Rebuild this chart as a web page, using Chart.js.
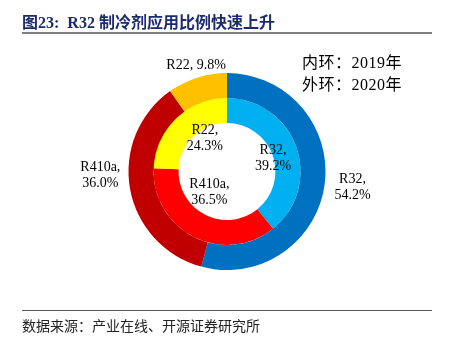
<!DOCTYPE html>
<html>
<head>
<meta charset="utf-8">
<script src="https://cdn.jsdelivr.net/npm/chart.js@4/dist/chart.umd.min.js"></script>
<style>
  html, body { margin: 0; padding: 0; background: #fff; }
  #wrap { position: relative; width: 454px; height: 337px; overflow: hidden; }
  #c { position: absolute; left: 0; top: 0; }
  .title { position: absolute; left: 22px; top: 9px; font: bold 16px "Liberation Serif", "Noto Sans CJK SC"; color: #1c2b6e; white-space: nowrap; }
  .rule-top { position: absolute; left: 22px; top: 32px; width: 410px; height: 2px; background: #7f7f7f; }
  .note { position: absolute; left: 302px; font: 16px "Liberation Serif", "Noto Sans CJK SC"; color: #000; letter-spacing: 0.5px; white-space: nowrap; }
  .rule-bot { position: absolute; left: 22px; top: 310px; width: 410px; height: 1px; background: #595959; }
  .source { position: absolute; left: 22px; top: 315px; font: 14px "Noto Sans CJK SC"; color: #222; white-space: nowrap; }
</style>
</head>
<body>
<div id="wrap">
  <canvas id="c" width="454" height="337"></canvas>
  <div class="title">图23:&nbsp; R32 制冷剂应用比例快速上升</div>
  <div class="rule-top"></div>
  <div class="note" style="top:49px">内环：2019年</div>
  <div class="note" style="top:71px">外环：2020年</div>
  <div class="rule-bot"></div>
  <div class="source">数据来源：产业在线、开源证券研究所</div>
</div>
<script>
// refrigerant shares, percent
const categories = ['R32', 'R410a', 'R22'];
const share2020 = [54.2, 36.0, 9.8];   // outer ring
const share2019 = [39.2, 36.5, 24.3];  // inner ring

const outerColors = ['#0070C0', '#C00000', '#FFC000'];
const innerColors = ['#00B0F0', '#FF0000', '#FFFF00'];

// draws "name, value%" next to every slice
const sliceLabels = {
    id: 'sliceLabels',
    afterDatasetsDraw(chart, args, opts)
    {
        const ctx = chart.ctx;
        ctx.save();
        ctx.font = opts.font;
        ctx.fillStyle = opts.color;
        ctx.textAlign = 'center';
        ctx.textBaseline = 'middle';
        chart.data.datasets.forEach( (ds, di) =>
        {
            const place = opts.place[di];
            chart.getDatasetMeta(di).data.forEach( (arc, i) =>
            {
                const p = arc.getProps(['x', 'y', 'startAngle', 'endAngle', 'innerRadius', 'outerRadius'], true);
                const mid = (p.startAngle + p.endAngle) / 2;
                const r = (place.edge === 'outer' ? p.outerRadius : p.innerRadius) + place.gap;
                const n = place.nudge[i];
                const cx = p.x + Math.cos(mid) * r + n[0];
                const cy = p.y + Math.sin(mid) * r + n[1];
                const name = chart.data.labels[i];
                const val = ds.data[i].toFixed(1) + '%';
                const lines = place.oneLine.includes(i) ? [name + ', ' + val] : [name + ',', val];
                lines.forEach( (t, k) =>
                    ctx.fillText(t, cx, cy + (k - (lines.length - 1) / 2) * opts.lineHeight) );
            });
        });
        ctx.restore();
    }
};

new Chart(document.getElementById('c'), {
    type: 'doughnut',
    data: {
        labels: categories,
        datasets: [
            { label: '2020', data: share2020, backgroundColor: outerColors, borderWidth: 0 },
            { label: '2019', data: share2019, backgroundColor: innerColors, borderWidth: 0 }
        ]
    },
    options: {
        responsive: false,
        animation: false,
        devicePixelRatio: 1,
        cutout: '49.2%',
        layout: { padding: { top: 73, bottom: 67, left: 0, right: 0 } },
        plugins: {
            legend: { display: false },
            tooltip: { enabled: false },
            sliceLabels: {
                font: '14px "Liberation Serif"',
                color: '#000',
                lineHeight: 16.5,
                place: [
                    { edge: 'outer', gap: 20, oneLine: [2], nudge: [[8, 0], [-10, -17], [5, 7]] },
                    { edge: 'inner', gap: -5, oneLine: [], nudge: [[5, 1.5], [2, -18], [8, -2]] }
                ]
            }
        }
    },
    plugins: [sliceLabels]
});
</script>
</body>
</html>
